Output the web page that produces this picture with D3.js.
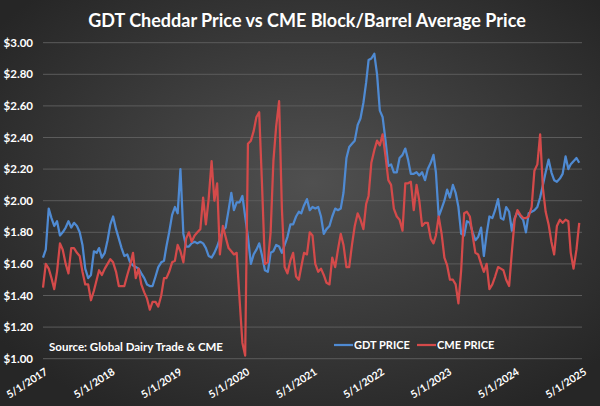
<!DOCTYPE html>
<html>
<head>
<meta charset="utf-8">
<script src="https://cdn.jsdelivr.net/npm/d3@7"></script>
<style>
  html, body { margin: 0; padding: 0; background: #333; }
  svg { display: block; font-family: Lato, "Open Sans", sans-serif; }
</style>
</head>
<body>
<svg id="chart" width="600" height="406"></svg>
<script>
// semi-monthly observations, first one on 5/1/2017
var startMonth = new Date(2017, 4, 1);

var gdtPrice = [
  1.64, 1.69, 1.95, 1.89, 1.84, 1.87, 1.78, 1.80, 1.83, 1.87, 1.83, 1.86, 1.84, 1.80, 1.72, 1.57,
  1.51, 1.53, 1.68, 1.67, 1.70, 1.64, 1.67, 1.75, 1.85, 1.90, 1.82, 1.76, 1.70, 1.65, 1.66, 1.61,
  1.59, 1.58, 1.57, 1.54, 1.51, 1.47, 1.46, 1.46, 1.52, 1.58, 1.61, 1.62, 1.71, 1.80, 1.91, 1.96,
  1.92, 2.20, 1.79, 1.71, 1.71, 1.73, 1.74, 1.73, 1.74, 1.73, 1.70, 1.65, 1.64, 1.67, 1.71, 1.76,
  1.81, 1.83, 1.94, 2.05, 1.94, 1.99, 1.99, 2.03, 1.90, 1.77, 1.60, 1.66, 1.69, 1.73, 1.65, 1.56,
  1.55, 1.67, 1.68, 1.72, 1.71, 1.67, 1.72, 1.77, 1.85, 1.85, 1.90, 1.93, 1.92, 1.97, 2.01, 1.94,
  1.96, 1.95, 1.96, 1.90, 1.79, 1.82, 1.84, 1.90, 1.95, 1.94, 1.95, 2.05, 2.27, 2.34, 2.36, 2.38,
  2.48, 2.52, 2.62, 2.75, 2.89, 2.90, 2.93, 2.80, 2.57, 2.53, 2.38, 2.22, 2.23, 2.18, 2.18, 2.27,
  2.29, 2.33, 2.26, 2.17, 2.17, 2.18, 2.16, 2.18, 2.13, 2.20, 2.24, 2.29, 2.18, 1.90, 1.95, 2.00,
  2.07, 2.02, 2.10, 2.05, 1.96, 1.79, 1.78, 1.87, 1.86, 1.80, 1.75, 1.77, 1.83, 1.65, 1.79, 1.90,
  1.89, 1.94, 2.01, 1.89, 1.88, 1.96, 1.93, 1.81, 1.89, 1.93, 1.90, 1.88, 1.80, 1.92, 1.93, 1.94,
  1.96, 2.02, 2.10, 2.18, 2.26, 2.18, 2.13, 2.12, 2.14, 2.17, 2.28, 2.20, 2.23, 2.25, 2.27, 2.24
];

var cmePrice = [
  1.45, 1.60, 1.57, 1.51, 1.44, 1.55, 1.73, 1.69, 1.60, 1.54, 1.70, 1.70, 1.67, 1.65, 1.55, 1.47,
  1.47, 1.37, 1.43, 1.50, 1.56, 1.53, 1.57, 1.60, 1.63, 1.61, 1.55, 1.46, 1.46, 1.46, 1.53, 1.59,
  1.67, 1.51, 1.57, 1.47, 1.42, 1.38, 1.31, 1.36, 1.36, 1.33, 1.40, 1.51, 1.51, 1.55, 1.61, 1.62,
  1.72, 1.68, 1.61, 1.76, 1.80, 1.74, 1.78, 1.80, 1.82, 2.02, 1.85, 2.01, 2.25, 2.00, 2.11, 1.66,
  1.84, 1.77, 1.70, 1.68, 1.66, 1.67, 1.37, 1.10, 1.02, 2.36, 2.38, 2.44, 2.53, 2.56, 2.08, 1.60,
  1.61, 1.80, 2.25, 2.47, 2.63, 1.95, 1.58, 1.54, 1.62, 1.67, 1.52, 1.50, 1.58, 1.67, 1.66, 1.80,
  1.78, 1.60, 1.55, 1.57, 1.53, 1.48, 1.47, 1.64, 1.58, 1.69, 1.79, 1.72, 1.58, 1.58, 1.72, 1.84,
  1.92, 1.88, 1.82, 1.98, 2.03, 2.24, 2.32, 2.38, 2.35, 2.42, 2.28, 2.13, 2.10, 1.95, 1.90, 1.88,
  1.81, 2.11, 2.11, 2.12, 1.94, 2.10, 2.00, 1.84, 1.86, 1.86, 1.76, 1.73, 1.78, 1.90, 1.79, 1.64,
  1.59, 1.50, 1.50, 1.47, 1.35, 1.56, 1.92, 1.93, 1.90, 1.78, 1.67, 1.66, 1.60, 1.55, 1.60, 1.44,
  1.47, 1.52, 1.58, 1.57, 1.56, 1.50, 1.46, 1.68, 1.88, 1.94, 1.91, 1.89, 1.89, 1.90, 1.96, 2.19,
  2.23, 2.42, 2.08, 1.93, 1.85, 1.74, 1.66, 1.84, 1.88, 1.86, 1.88, 1.87, 1.67, 1.57, 1.69, 1.86
];

var xTickLabels = ["5/1/2017", "5/1/2018", "5/1/2019", "5/1/2020", "5/1/2021",
                   "5/1/2022", "5/1/2023", "5/1/2024", "5/1/2025"];
var yTicks = [1.0, 1.2, 1.4, 1.6, 1.8, 2.0, 2.2, 2.4, 2.6, 2.8, 3.0];

var seriesNames = ["GDT PRICE", "CME PRICE"];
var seriesColors = ["#4f8ad2", "#d44a4a"];

var svg = d3.select("#chart"),
    width = +svg.attr("width"),
    height = +svg.attr("height");

// dark radial background like the excel style
var defs = svg.append("defs");
var grad = defs.append("radialGradient")
  .attr("id", "bg")
  .attr("cx", "52%").attr("cy", "45%").attr("r", "65%");
grad.append("stop").attr("offset", "0%").attr("stop-color", "#505050");
grad.append("stop").attr("offset", "100%").attr("stop-color", "#262626");

svg.append("rect")
  .attr("width", width).attr("height", height)
  .attr("fill", "url(#bg)");

// point dates: 1st and 16th of each month
function pointDate(i) {
  return new Date(startMonth.getFullYear(), startMonth.getMonth() + Math.floor(i / 2), i % 2 ? 16 : 1);
}

var parse = d3.timeParse("%m/%d/%Y");
var tickDates = xTickLabels.map(function(s) { return parse(s); });

var x = d3.scaleTime()
  .domain([tickDates[0], tickDates[tickDates.length - 1]])
  .range([43, 582]);

var y = d3.scaleLinear()
  .domain([1, 3])
  .range([358.7, 42.7]);

// gridlines
svg.append("g")
  .selectAll("line")
  .data(yTicks)
  .enter()
  .append("line")
  .attr("x1", x.range()[0])
  .attr("x2", x.range()[1])
  .attr("y1", function(d) { return y(d); })
  .attr("y2", function(d) { return y(d); })
  .attr("stroke", "#5c5c5c")
  .attr("stroke-width", 1);

// y axis labels
svg.append("g")
  .selectAll("text")
  .data(yTicks)
  .enter()
  .append("text")
  .attr("x", 33)
  .attr("y", function(d) { return y(d); })
  .attr("dy", "0.35em")
  .attr("text-anchor", "end")
  .attr("fill", "#ffffff")
  .attr("font-weight", "bold")
  .attr("font-size", "11.5px")
  .text(function(d) { return d3.format("$.2f")(d); });

// x axis labels, rotated
svg.append("g")
  .selectAll("text")
  .data(tickDates)
  .enter()
  .append("text")
  .attr("transform", function(d) { return "translate(" + (x(d) + 1) + ",367) rotate(-33)"; })
  .attr("dy", "0.75em")
  .attr("text-anchor", "end")
  .attr("fill", "#ffffff")
  .attr("font-weight", "bold")
  .attr("font-size", "10.5px")
  .text(function(d, i) { return xTickLabels[i]; });

// lines
var line = d3.line()
  .x(function(d, i) { return x(pointDate(i)); })
  .y(function(d) { return y(d); });

[gdtPrice, cmePrice].forEach(function(vals, k) {
  svg.append("path")
    .datum(vals)
    .attr("d", line)
    .attr("fill", "none")
    .attr("stroke", seriesColors[k])
    .attr("stroke-width", 2.25)
    .attr("stroke-linejoin", "round");
});

// title
svg.append("text")
  .attr("x", 307)
  .attr("y", 27)
  .attr("text-anchor", "middle")
  .attr("fill", "#ffffff")
  .attr("font-weight", "bold")
  .attr("font-size", "18px")
  .text("GDT Cheddar Price vs CME Block/Barrel Average Price");

// source note
svg.append("text")
  .attr("x", 49)
  .attr("y", 351)
  .attr("fill", "#ffffff")
  .attr("font-weight", "bold")
  .attr("font-size", "11.5px")
  .text("Source: Global Dairy Trade & CME");

// legend
var legend = svg.append("g");
var legendX = [334, 417];
seriesNames.forEach(function(name, k) {
  legend.append("line")
    .attr("x1", legendX[k]).attr("x2", legendX[k] + 19)
    .attr("y1", 345).attr("y2", 345)
    .attr("stroke", seriesColors[k])
    .attr("stroke-width", 2.25);
  legend.append("text")
    .attr("x", legendX[k] + 20)
    .attr("y", 349)
    .attr("fill", "#ffffff")
    .attr("font-weight", "bold")
    .attr("font-size", "11px")
    .text(name);
});
</script>
</body>
</html>
